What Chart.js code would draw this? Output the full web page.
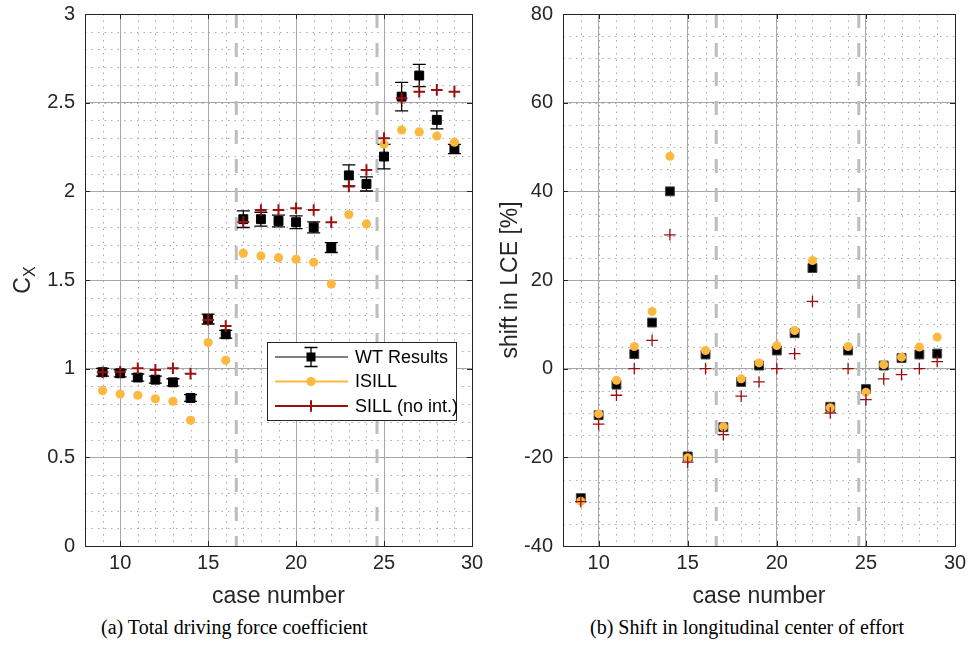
<!DOCTYPE html>
<html lang="en">
<head>
    <meta charset="UTF-8">
    <title>Driving force and LCE shift</title>
    <script src="https://cdn.jsdelivr.net/npm/chart.js"></script>
    <style>
        body {
            margin: 0;
            background: #fff;
            width: 978px;
            height: 648px;
            position: relative;
            overflow: hidden;
            font-family: "Liberation Sans", Arial, sans-serif;
        }
        canvas {
            position: absolute;
            top: -8px;
        }
        #cxChart { left: 0; }
        #lceChart { left: 489px; }
        .caption {
            position: absolute;
            top: 616px;
            font-family: "Liberation Serif", serif;
            font-size: 20px;
            color: #000;
            white-space: nowrap;
        }
    </style>
</head>
<body>
    <canvas id="cxChart" width="489" height="618"></canvas>
    <canvas id="lceChart" width="489" height="618"></canvas>
    <div class="caption" style="left:101px">(a) Total driving force coefficient</div>
    <div class="caption" style="left:590px">(b) Shift in longitudinal center of effort</div>
    <script>
        // case numbers on the x axis
        const cases = [9, 10, 11, 12, 13, 14, 15, 16, 17, 18, 19, 20, 21, 22, 23, 24, 25, 26, 27, 28, 29];

        // (a) total driving force coefficient
        const wtCx = [0.98, 0.974, 0.95, 0.938, 0.923, 0.835, 1.28, 1.194, 1.843, 1.843, 1.833, 1.826, 1.797, 1.683, 2.09, 2.042, 2.196, 2.534, 2.653, 2.403, 2.239];
        const wtCxErr = [0.022, 0.02, 0.02, 0.02, 0.02, 0.019, 0.028, 0.022, 0.047, 0.039, 0.033, 0.036, 0.031, 0.028, 0.059, 0.04, 0.069, 0.08, 0.063, 0.051, 0.026];
        const isillCx = [0.876, 0.857, 0.85, 0.83, 0.816, 0.709, 1.147, 1.047, 1.651, 1.636, 1.626, 1.617, 1.6, 1.478, 1.869, 1.816, 2.266, 2.346, 2.335, 2.312, 2.277];
        const sillCx = [0.98, 0.983, 1.002, 0.993, 1.002, 0.972, 1.275, 1.241, 1.827, 1.895, 1.895, 1.905, 1.895, 1.826, 2.027, 2.12, 2.3, 2.525, 2.562, 2.572, 2.562];

        // (b) shift in LCE [%]
        const wtLce = [-29.2, -10.5, -3.6, 3.3, 10.4, 40.0, -19.8, 3.2, -13.2, -3.0, 0.7, 4.1, 8.0, 22.7, -8.6, 4.1, -4.6, 0.7, 2.4, 3.2, 3.4];
        const isillLce = [-29.9, -10.2, -2.6, 5.0, 12.9, 47.9, -20.1, 4.1, -13.1, -2.3, 1.3, 5.2, 8.6, 24.4, -8.8, 5.0, -5.3, 0.9, 2.6, 4.9, 7.1];
        const sillLce = [-30, -12.5, -6.0, 0, 6.4, 30.2, -21.1, 0, -14.9, -6.2, -3.0, 0, 3.4, 15.2, -10.0, 0, -7.0, -2.3, -1.35, 0, 1.6];

        // grouping separators and tick labels
        const separators = [16.6, 24.6];
        const xTicks = [10, 15, 20, 25, 30];
        const cxTicks = [0, 0.5, 1, 1.5, 2, 2.5, 3];
        const lceTicks = [-40, -20, 0, 20, 40, 60, 80];
        const legendLabels = ['WT Results', 'ISILL', 'SILL (no int.)'];

        const BLACK = '#000000';
        const ORANGE = '#FDB83F';
        const DARKRED = '#9A1010';
        const AXIS = '#262626';
        const FONT = '"Liberation Sans", Arial, sans-serif';

        function points(ys) {
            return cases.map((c, i) => ({ x: c, y: ys[i] }));
        }

        // markers, same look in plot and legend
        function drawSquare(ctx, x, y) {
            ctx.fillStyle = BLACK;
            ctx.fillRect(x - 4.5, y - 4.5, 9, 9);
        }
        function drawCircle(ctx, x, y) {
            ctx.fillStyle = ORANGE;
            ctx.beginPath();
            ctx.arc(x, y, 4.6, 0, Math.PI * 2);
            ctx.fill();
        }
        function drawCross(ctx, x, y, w) {
            ctx.strokeStyle = DARKRED;
            ctx.lineWidth = w;
            ctx.beginPath();
            ctx.moveTo(x - 5.8, y); ctx.lineTo(x + 5.8, y);
            ctx.moveTo(x, y - 5.8); ctx.lineTo(x, y + 5.8);
            ctx.stroke();
        }
        function drawErrBar(ctx, x, y1, y2) {
            ctx.strokeStyle = BLACK;
            ctx.lineWidth = 1.3;
            ctx.beginPath();
            ctx.moveTo(x, y1); ctx.lineTo(x, y2);
            ctx.moveTo(x - 6.5, y1); ctx.lineTo(x + 6.5, y1);
            ctx.moveTo(x - 6.5, y2); ctx.lineTo(x + 6.5, y2);
            ctx.stroke();
        }

        // minor grid, separators and error bars under the markers
        const underlay = {
            id: 'underlay',
            beforeDatasetsDraw(chart, args, opts) {
                const { ctx, chartArea: a, scales: { x, y } } = chart;
                ctx.save();
                ctx.beginPath();
                ctx.rect(a.left, a.top, a.right - a.left, a.bottom - a.top);
                ctx.clip();

                ctx.strokeStyle = '#a9a9a9';
                ctx.lineWidth = 1;
                ctx.setLineDash([1.5, 5]);
                ctx.beginPath();
                for (let v = x.min + 1; v < x.max; v += 1) {
                    const px = Math.round(x.getPixelForValue(v)) + 0.5;
                    ctx.moveTo(px, a.top); ctx.lineTo(px, a.bottom);
                }
                const n = Math.round((y.max - y.min) / opts.minorY);
                for (let k = 1; k < n; k++) {
                    const py = Math.round(y.getPixelForValue(y.min + k * opts.minorY)) + 0.5;
                    ctx.moveTo(a.left, py); ctx.lineTo(a.right, py);
                }
                ctx.stroke();

                ctx.strokeStyle = '#bdbdbd';
                ctx.lineWidth = 3;
                ctx.setLineDash([14, 15]);
                ctx.beginPath();
                separators.forEach(s => {
                    const px = x.getPixelForValue(s);
                    ctx.moveTo(px, a.top); ctx.lineTo(px, a.bottom);
                });
                ctx.stroke();
                ctx.setLineDash([]);

                if (opts.err) {
                    opts.vals.forEach((v, i) => {
                        const px = x.getPixelForValue(cases[i]);
                        drawErrBar(ctx, px, y.getPixelForValue(v + opts.err[i]), y.getPixelForValue(v - opts.err[i]));
                    });
                }
                ctx.restore();
            }
        };

        // axes box with inward ticks, subscripted y label and legend
        const overlay = {
            id: 'overlay',
            afterDraw(chart, args, opts) {
                const { ctx, chartArea: a, scales: { x, y } } = chart;
                ctx.save();
                ctx.strokeStyle = AXIS;
                ctx.lineWidth = 1;
                ctx.strokeRect(Math.round(a.left) + 0.5, Math.round(a.top) + 0.5, Math.round(a.right - a.left), Math.round(a.bottom - a.top));
                ctx.beginPath();
                xTicks.forEach(v => {
                    const px = Math.round(x.getPixelForValue(v)) + 0.5;
                    ctx.moveTo(px, a.bottom); ctx.lineTo(px, a.bottom - 5);
                    ctx.moveTo(px, a.top); ctx.lineTo(px, a.top + 5);
                });
                opts.yTicks.forEach(v => {
                    const py = Math.round(y.getPixelForValue(v)) + 0.5;
                    ctx.moveTo(a.left, py); ctx.lineTo(a.left + 5, py);
                    ctx.moveTo(a.right, py); ctx.lineTo(a.right - 5, py);
                });
                ctx.stroke();

                if (opts.subLabel) {
                    ctx.translate(24, (a.top + a.bottom) / 2);
                    ctx.rotate(-Math.PI / 2);
                    ctx.fillStyle = AXIS;
                    ctx.textBaseline = 'alphabetic';
                    ctx.font = '23px ' + FONT;
                    const wC = ctx.measureText('C').width;
                    ctx.font = '16px ' + FONT;
                    const wX = ctx.measureText('X').width;
                    const x0 = -(wC + wX) / 2;
                    ctx.font = '23px ' + FONT;
                    ctx.fillText('C', x0, 6);
                    ctx.font = '16px ' + FONT;
                    ctx.fillText('X', x0 + wC, 11);
                    ctx.setTransform(1, 0, 0, 1, 0, 0);
                }

                if (opts.legend) {
                    // legend box position in page pixels, canvas is shifted up by 8
                    const L = 267, T = 342 + 8, R = 456, B = 420 + 8;
                    ctx.fillStyle = '#fff';
                    ctx.fillRect(L, T, R - L, B - T);
                    ctx.strokeStyle = AXIS;
                    ctx.lineWidth = 1;
                    ctx.strokeRect(L + 0.5, T + 0.5, R - L, B - T);
                    const rows = [357 + 8, 381.5 + 8, 406 + 8];
                    const colors = [BLACK, ORANGE, DARKRED];
                    rows.forEach((ry, i) => {
                        ctx.strokeStyle = colors[i];
                        ctx.lineWidth = i === 0 ? 1 : 2;
                        ctx.beginPath();
                        ctx.moveTo(275, ry); ctx.lineTo(348, ry);
                        ctx.stroke();
                    });
                    drawErrBar(ctx, 311, rows[0] - 9.5, rows[0] + 9.5);
                    drawSquare(ctx, 311, rows[0]);
                    drawCircle(ctx, 311, rows[1]);
                    drawCross(ctx, 311, rows[2], 2);
                    ctx.fillStyle = '#000';
                    ctx.font = '18px ' + FONT;
                    ctx.textBaseline = 'middle';
                    ctx.textAlign = 'left';
                    legendLabels.forEach((t, i) => ctx.fillText(t, 355, rows[i] + 1));
                }
                ctx.restore();
            }
        };

        function renderChart(canvasId, cfg) {
            const tickFont = { family: FONT, size: 20 };
            new Chart(document.getElementById(canvasId), {
                type: 'scatter',
                data: {
                    datasets: [
                        {
                            label: legendLabels[2],
                            data: points(cfg.sill),
                            pointStyle: 'cross',
                            pointRadius: 5.8,
                            borderColor: DARKRED,
                            borderWidth: cfg.crossWidth,
                            backgroundColor: DARKRED
                        },
                        {
                            label: legendLabels[1],
                            data: points(cfg.isill),
                            pointStyle: 'circle',
                            pointRadius: cfg.circleR,
                            backgroundColor: ORANGE,
                            borderColor: ORANGE,
                            borderWidth: 0
                        },
                        {
                            label: legendLabels[0],
                            data: points(cfg.wt),
                            pointStyle: 'rect',
                            pointRadius: cfg.squareR,
                            backgroundColor: BLACK,
                            borderColor: cfg.squareBorder,
                            borderWidth: 1
                        }
                    ]
                },
                options: {
                    responsive: false,
                    animation: false,
                    events: [],
                    layout: { padding: { left: 0, right: cfg.padRight, top: 6, bottom: 0 } },
                    plugins: {
                        legend: { display: false },
                        tooltip: { enabled: false },
                        underlay: { minorY: cfg.minorY, vals: cfg.wt, err: cfg.err },
                        overlay: { yTicks: cfg.yTicks, legend: cfg.legend, subLabel: cfg.subLabel }
                    },
                    scales: {
                        x: {
                            type: 'linear',
                            min: 8,
                            max: 30,
                            afterBuildTicks: s => { s.ticks = xTicks.map(v => ({ value: v })); },
                            afterFit: s => { s.height = 64; },
                            ticks: { font: tickFont, color: AXIS, padding: 5, callback: v => String(v), maxRotation: 0 },
                            grid: { color: '#a6a6a6', lineWidth: 1, drawTicks: false },
                            border: { display: false },
                            title: { display: true, text: 'case number', color: AXIS, padding: { top: 0, bottom: 0 }, font: { family: FONT, size: 23 } }
                        },
                        y: {
                            type: 'linear',
                            min: cfg.yTicks[0],
                            max: cfg.yTicks[cfg.yTicks.length - 1],
                            afterBuildTicks: s => { s.ticks = cfg.yTicks.map(v => ({ value: v })); },
                            afterFit: s => { s.width = cfg.yWidth; },
                            ticks: { font: tickFont, color: AXIS, padding: 10, callback: v => String(v) },
                            grid: { color: '#a6a6a6', lineWidth: 1, drawTicks: false },
                            border: { display: false },
                            title: {
                                display: !cfg.subLabel,
                                text: cfg.yTitle,
                                color: AXIS,
                                padding: { top: 8, bottom: 0 },
                                font: { family: FONT, size: 23 }
                            }
                        }
                    }
                },
                plugins: [underlay, overlay]
            });
        }

        renderChart('cxChart', {
            wt: wtCx, err: wtCxErr, isill: isillCx, sill: sillCx,
            yTicks: cxTicks, minorY: 0.1, yWidth: 85, padRight: 17,
            legend: true, subLabel: true, yTitle: '',
            squareR: 6.3, circleR: 4.6, crossWidth: 2, squareBorder: BLACK
        });

        renderChart('lceChart', {
            wt: wtLce, err: null, isill: isillLce, sill: sillLce,
            yTicks: lceTicks, minorY: 5, yWidth: 74, padRight: 23,
            legend: false, subLabel: false, yTitle: 'shift in LCE [%]',
            squareR: 6.3, circleR: 4.5, crossWidth: 1.3, squareBorder: '#444'
        });
    </script>
</body>
</html>
